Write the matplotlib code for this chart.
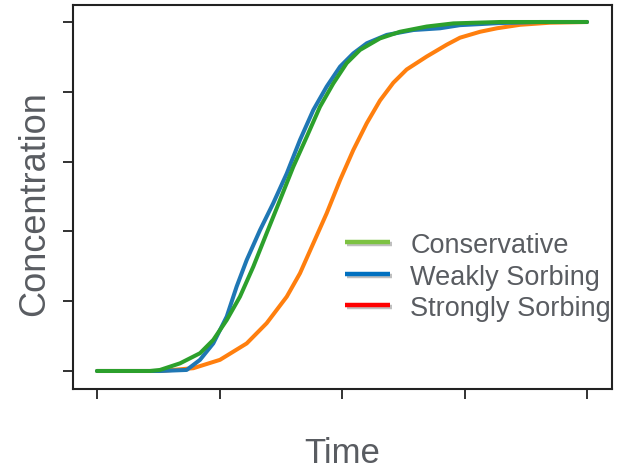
import matplotlib
matplotlib.use("Agg")
import matplotlib.pyplot as plt
from matplotlib.lines import Line2D
import matplotlib.patheffects as pe

# Data (time units, normalised concentration)
cons_t = [0.0, 0.433, 0.514, 0.678, 0.841, 0.949, 1.059, 1.167, 1.276, 1.385, 1.494,
          1.602, 1.712, 1.820, 1.929, 2.038, 2.147, 2.310, 2.473, 2.691, 2.909, 3.290, 4.0]
cons_c = [0.0, 0.0, 0.003, 0.022, 0.051, 0.089, 0.146, 0.213, 0.299, 0.395, 0.490,
          0.585, 0.671, 0.757, 0.824, 0.882, 0.920, 0.953, 0.972, 0.987, 0.996, 1.0, 1.0]

weak_t = [0.0, 0.514, 0.732, 0.841, 0.949, 1.059, 1.140, 1.222, 1.331, 1.439, 1.549,
          1.657, 1.766, 1.875, 1.984, 2.092, 2.202, 2.365, 2.582, 2.800, 2.963, 3.290,
          3.616, 4.0]
weak_c = [0.0, 0.0, 0.003, 0.032, 0.079, 0.156, 0.242, 0.318, 0.404, 0.481, 0.566,
          0.662, 0.748, 0.815, 0.872, 0.910, 0.939, 0.963, 0.977, 0.982, 0.991, 0.997,
          1.0, 1.0]

strong_t = [0.0, 0.514, 0.786, 1.004, 1.222, 1.385, 1.549, 1.657, 1.766, 1.875, 1.984,
            2.092, 2.202, 2.310, 2.419, 2.528, 2.691, 2.855, 2.963, 3.127, 3.265, 3.453,
            3.698, 4.0]
strong_c = [0.0, 0.0, 0.008, 0.032, 0.079, 0.137, 0.213, 0.280, 0.366, 0.452, 0.547,
            0.633, 0.710, 0.775, 0.826, 0.864, 0.901, 0.935, 0.955, 0.972, 0.982, 0.992,
            0.998, 1.0]

legend_labels = ["Conservative", "Weakly Sorbing", "Strongly Sorbing"]
legend_colors = ["#7dc242", "#0070c0", "#ff0000"]

x_ticks = [0, 1, 2, 3, 4]
y_ticks = [0, 0.2, 0.4, 0.6, 0.8, 1.0]

text_color = "#595c61"
plt.rcParams["font.family"] = ["Liberation Sans", "DejaVu Sans"]

fig = plt.figure(figsize=(6.17, 4.69), dpi=100)
ax = fig.add_axes([73/617, 1-389/469, (612-73)/617, (389-5)/469])

lw = 2.9
common = dict(lw=lw, solid_capstyle="round", solid_joinstyle="round")
ax.plot(strong_t, strong_c, color="#ff7f0e", zorder=2, **common)
ax.plot(weak_t, weak_c, color="#1f77b4", zorder=3, **common)
ax.plot(cons_t, cons_c, color="#2ca02c", zorder=4, **common)

ax.set_xlim(-0.196, 4.204)
ax.set_ylim(-0.0516, 1.0487)
ax.set_xticks(x_ticks)
ax.set_yticks(y_ticks)
ax.set_xticklabels([])
ax.set_yticklabels([])
ax.tick_params(direction="out", length=7, width=1.3, color="#222222")
for s in ax.spines.values():
    s.set_linewidth(1.5)
    s.set_color("#222222")

ax.set_xlabel("Time", fontsize=25, color=text_color, va="center")
ax.set_ylabel("Concentration", fontsize=26, color=text_color, va="center")
ax.xaxis.set_label_coords(0.50, -0.168)
ax.yaxis.set_label_coords(-0.072, 0.483)

shadow = [pe.SimpleLineShadow(offset=(1.5, -1.5), shadow_color="gray", alpha=0.5), pe.Normal()]
handles = [Line2D([], [], color=c, lw=3.2, solid_capstyle="butt", path_effects=shadow)
           for c in legend_colors]
leg = ax.legend(handles, legend_labels, loc="upper left",
                bbox_to_anchor=(345/617, 1-231/469), bbox_transform=fig.transFigure,
                frameon=False, fontsize=19.5, handlelength=1.67, handletextpad=0.74,
                handleheight=1.1, labelspacing=0.125, borderpad=0, borderaxespad=0)
for t in leg.get_texts():
    t.set_color(text_color)

fig.savefig("out.png", dpi=100)
